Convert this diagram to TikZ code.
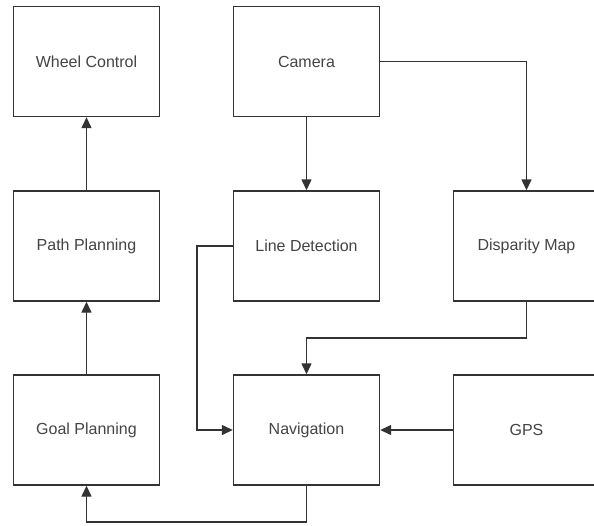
\documentclass[tikz,border=0pt]{standalone}
\usepackage{fontspec}
\setmainfont{Liberation Sans}
\usetikzlibrary{arrows.meta}
\definecolor{boxline}{HTML}{333333}
\definecolor{boxtext}{HTML}{444444}
\tikzset{
  block/.style={draw=boxline, line width=1.4pt, fill=white,
    minimum width=146pt, minimum height=110pt, inner sep=0pt,
    text=boxtext, font=\fontsize{16}{19}\selectfont},
  flow/.style={draw=boxline, line width=1.4pt,
    -{Triangle[width=10pt,length=11pt]}},
}
\begin{document}
\begin{tikzpicture}[x=1pt,y=-1pt]
  \useasboundingbox (0,0) rectangle (594,525);
  \clip (0,0) rectangle (594,525);
  \fill[white] (0,0) rectangle (594,525);

  \node[block] (wheel) at (86.5,61.5) {Wheel Control};
  \node[block] (camera) at (306.5,61.5) {Camera};

  \node[block] (path) at (86.5,246) {Path Planning};
  \node[block] (line) at (306.5,246) {Line Detection};
  \node[block] (disp) at (526.5,246) {Disparity Map};

  \node[block] (goal) at (86.5,430) {Goal Planning};
  \node[block] (nav) at (306.5,430) {Navigation};
  \node[block] (gps) at (526.5,430) {GPS};

  \coordinate (ldbend) at (197,246);
  \coordinate (dmbend) at (526.5,338);
  \coordinate (navbend) at (306.5,522);

  \draw[flow] (camera) to (line);
  \draw[flow] (camera.east) -| (disp.north);
  \draw[flow] (line.west) -- (ldbend) |- (nav.west);
  \draw[flow] (disp.south) -- (dmbend) -| (nav.north);
  \draw[flow] (gps.west) -- (nav.east);
  \draw[flow] (nav.south) -- (navbend) -| (goal.south);
  \draw[flow] (goal) to (path);
  \draw[flow] (path) to (wheel);
\end{tikzpicture}
\end{document}
